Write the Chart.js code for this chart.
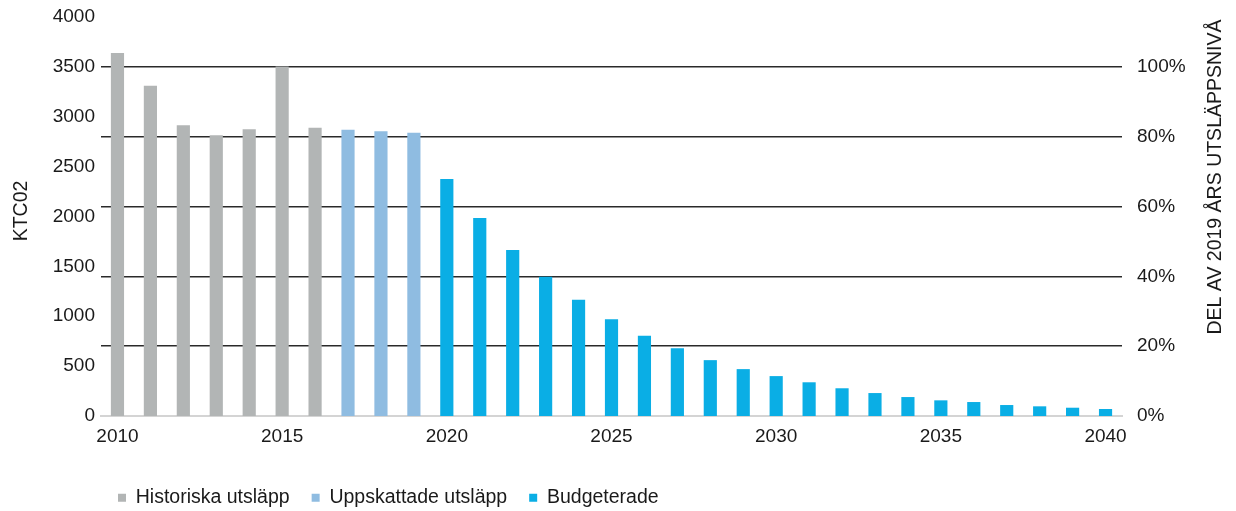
<!DOCTYPE html>
<html>
<head>
<meta charset="utf-8">
<script src="https://cdn.jsdelivr.net/npm/chart.js@4"></script>
<style>
  body { margin: 0; background: #fff; }
  #wrap { width: 1236px; height: 511px; position: relative; }
</style>
</head>
<body>
<div id="wrap"><canvas id="chart"></canvas></div>
<script>
// Years on the x axis
const years = [];
for (let y = 2010; y <= 2040; y++) years.push(String(y));

// Emissions, kt CO2
const historical = [3640, 3310, 2915, 2815, 2875, 3505, 2890];
const estimated = [2870, 2855, 2840];
const budgeted = [2375, 1985, 1665, 1395, 1165, 970, 805, 680, 560, 470,
  400, 338, 278, 230, 190, 157, 140, 110, 97, 83, 70];

// Tick values
const leftMax = 4000;
const leftStep = 500;
const refLevel = 3500; // 2019 level = 100 %
const pctStep = 20;

const FONT = "'Liberation Sans', Arial, sans-serif";
Chart.defaults.font.family = FONT;
Chart.defaults.font.size = 19;
Chart.defaults.color = "#1a1a1a";

// pad series out to full length
const pad = (arr, start) =>
  years.map((_, i) => (i >= start && i < start + arr.length ? arr[i - start] : null));

// axis titles: both read bottom-to-top
const titles = {
  id: "titles",
  afterLayout(chart) {
    // legend starts under the first bar, not at the canvas edge
    chart.legend.left += 96;
  },
  afterDraw(chart) {
    const ctx = chart.ctx;
    const put = (text, x, y) => {
      ctx.save();
      ctx.fillStyle = "#1a1a1a";
      ctx.font = "19.5px " + FONT;
      ctx.textAlign = "center";
      ctx.textBaseline = "middle";
      ctx.translate(x, y);
      ctx.rotate(-Math.PI / 2);
      ctx.fillText(text, 0, 0);
      ctx.restore();
    };
    put("KTC02", 22, 211);
    put("DEL AV 2019 ÅRS UTSLÄPPSNIVÅ", 1216, 177);
  },
};

new Chart(document.getElementById("chart"), {
  type: "bar",
  data: {
    labels: years,
    datasets: [
      {
        label: "Historiska utsläpp",
        data: pad(historical, 0),
        backgroundColor: "#b2b5b5",
      },
      {
        label: "Uppskattade utsläpp",
        data: pad(estimated, historical.length),
        backgroundColor: "#8fbce1",
      },
      {
        label: "Budgeterade",
        data: pad(budgeted, historical.length + estimated.length),
        backgroundColor: "#0aaee5",
      },
    ],
  },
  options: {
    responsive: true,
    maintainAspectRatio: false,
    animation: false,
    layout: { padding: { top: 17, left: 0, right: 0, bottom: 0 } },
    datasets: {
      bar: { grouped: false, barPercentage: 0.4, categoryPercentage: 1 },
    },
    plugins: {
      legend: {
        position: "bottom",
        align: "start",
        maxHeight: 45,
        labels: {
          boxWidth: 8,
          boxHeight: 8,
          padding: 22,
          color: "#1a1a1a",
          font: { size: 19.5 },
        },
      },
      tooltip: { enabled: false },
    },
    scales: {
      x: {
        grid: { display: false, drawTicks: false },
        border: { display: true, color: "#d4d4d4", width: 2 },
        ticks: {
          autoSkip: false,
          maxRotation: 0,
          padding: 9,
          callback: (v, i) => (Number(years[i]) % 5 === 0 ? years[i] : ""),
        },
        afterFit: (s) => { s.height = 50; },
      },
      y: {
        position: "left",
        min: 0,
        max: leftMax,
        grid: { display: false, drawTicks: false },
        border: { display: false },
        ticks: { stepSize: leftStep, padding: 6, callback: (v) => String(v) },
        afterFit: (s) => { s.width = 101; s.paddingTop = 0; },
      },
      y2: {
        position: "right",
        min: 0,
        max: (leftMax / refLevel) * 100,
        grid: {
          color: (c) => (c.tick && c.tick.value === 0 ? "#d4d4d4" : "#2a2a2a"),
          lineWidth: 1.5,
          drawTicks: false,
        },
        border: { display: false },
        ticks: {
          stepSize: pctStep,
          includeBounds: false,
          padding: 15,
          callback: (v) => v + "%",
        },
        afterFit: (s) => { s.width = 114; s.paddingTop = 0; },
      },
    },
  },
  plugins: [titles],
});
</script>
</body>
</html>
